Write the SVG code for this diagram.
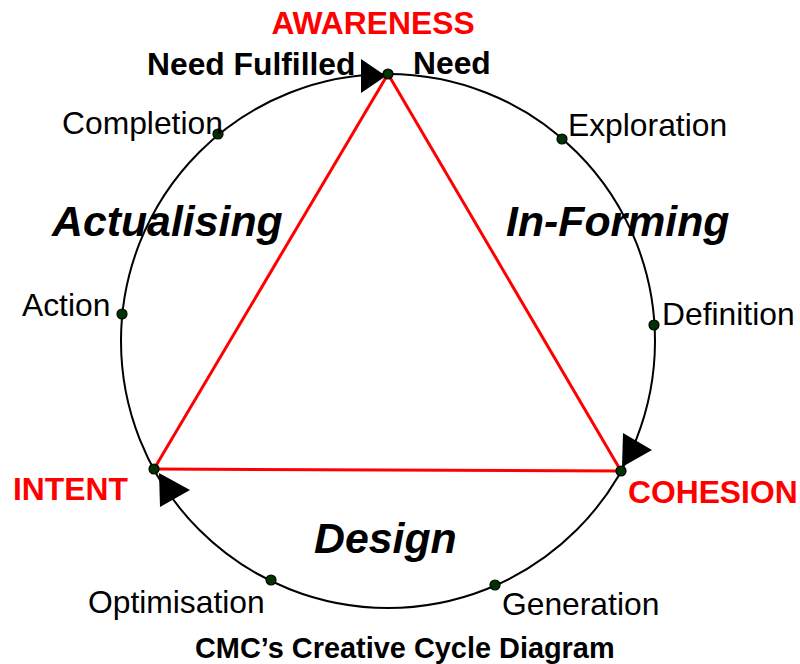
<svg xmlns="http://www.w3.org/2000/svg" width="800" height="664" viewBox="0 0 800 664">
<style>
.lbl{font-family:"Liberation Sans",Arial,sans-serif;font-size:31.8px;fill:#000}
.b{font-weight:bold}
.red{fill:#ff0000;font-weight:bold}
.cap{font-size:28.9px}
.phase{font-family:"Liberation Sans",Arial,sans-serif;font-size:42.8px;font-weight:bold;font-style:italic;fill:#000}
.dot{fill:#003300;stroke:#000;stroke-width:1.2}
.tri{stroke:#ff0000;stroke-width:3;fill:none}
.arr{fill:#000}
</style>
<rect width="800" height="664" fill="#fff"/>
<g id="connectors">
<circle cx="388" cy="341" r="267" fill="none" stroke="#000" stroke-width="2"/>
<line class="tri" x1="388" y1="74" x2="154" y2="469"/>
<line class="tri" x1="388" y1="74" x2="621" y2="471"/>
<line class="tri" x1="154" y1="469" x2="621" y2="471"/>
<polygon class="arr" points="361,59 386,76 361,93"/>
<polygon class="arr" points="623,433 652,450 622,467"/>
<polygon class="arr" points="159,473 190,490 160,507"/>
</g>
<g id="awareness"><circle class="dot" cx="388" cy="74" r="5"/><text class="lbl red" x="373" y="34" text-anchor="middle">AWARENESS</text></g>
<g id="need-fulfilled"><text class="lbl b" x="147" y="75">Need Fulfilled</text></g>
<g id="need"><text class="lbl b" x="413" y="74">Need</text></g>
<g id="completion"><circle class="dot" cx="218" cy="134" r="5"/><text class="lbl" x="62" y="134">Completion</text></g>
<g id="exploration"><circle class="dot" cx="562" cy="139" r="5"/><text class="lbl" x="568" y="136">Exploration</text></g>
<g id="actualising"><text class="phase" x="52" y="236">Actualising</text></g>
<g id="in-forming"><text class="phase" x="506" y="236">In-Forming</text></g>
<g id="action"><circle class="dot" cx="122" cy="314" r="5"/><text class="lbl" x="22" y="316">Action</text></g>
<g id="definition"><circle class="dot" cx="654" cy="325" r="5"/><text class="lbl" x="662" y="325">Definition</text></g>
<g id="intent"><circle class="dot" cx="154" cy="469" r="5"/><text class="lbl red" x="13" y="500">INTENT</text></g>
<g id="cohesion"><circle class="dot" cx="621" cy="471" r="5"/><text class="lbl red" x="628" y="503">COHESION</text></g>
<g id="design"><text class="phase" x="314" y="553">Design</text></g>
<g id="optimisation"><circle class="dot" cx="271" cy="580" r="5"/><text class="lbl" x="88" y="613">Optimisation</text></g>
<g id="generation"><circle class="dot" cx="495" cy="585" r="5"/><text class="lbl" x="502" y="615">Generation</text></g>
<g id="caption"><text class="lbl b cap" x="195" y="658">CMC’s Creative Cycle Diagram</text></g>
</svg>
